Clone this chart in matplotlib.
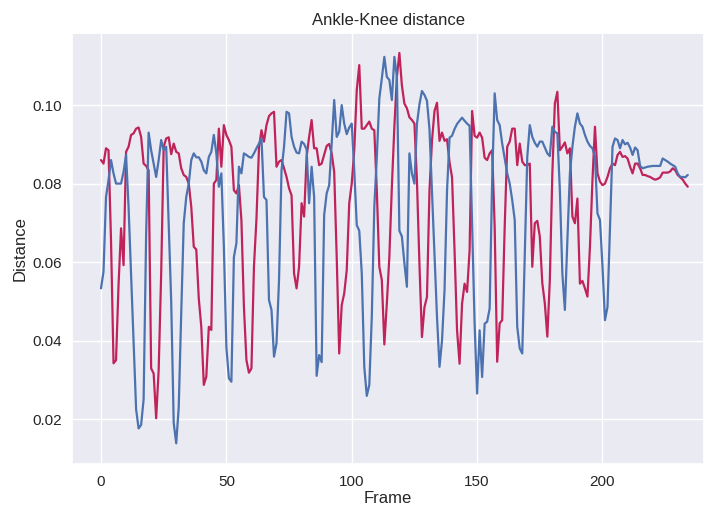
import matplotlib
matplotlib.use("Agg")
import matplotlib.pyplot as plt
import seaborn as sns
import numpy as np

blue_vals = [
    0.0533, 0.0575, 0.0766, 0.0809, 0.086, 0.0826, 0.080, 0.080, 0.080, 0.083,
    0.0873, 0.074, 0.057, 0.0394, 0.0225, 0.0176, 0.0185, 0.025, 0.067, 0.093,
    0.0885, 0.0851, 0.0817, 0.086, 0.0911, 0.0885, 0.0894, 0.0697, 0.05, 0.019,
    0.0138, 0.023, 0.047, 0.0699, 0.0766, 0.080, 0.086, 0.0877, 0.0867, 0.0867,
    0.0856, 0.0834, 0.0826, 0.0868, 0.0881, 0.0924, 0.0877, 0.0792, 0.0826, 0.064,
    0.0384, 0.0304, 0.0295, 0.0613, 0.0648, 0.0843, 0.0826, 0.0877, 0.0873, 0.0868,
    0.0866, 0.0877, 0.089, 0.0902, 0.0915, 0.0766, 0.0758, 0.0503, 0.0478, 0.0359,
    0.0393, 0.0554, 0.0834, 0.0894, 0.0983, 0.0979, 0.0919, 0.0894, 0.0879, 0.0877,
    0.0907, 0.0901, 0.0887, 0.075, 0.0843, 0.0766, 0.031, 0.0363, 0.0345, 0.072,
    0.0775, 0.0796, 0.0902, 0.1013, 0.0919, 0.0932, 0.1, 0.0953, 0.0926, 0.0943,
    0.0953, 0.0834, 0.0694, 0.068, 0.0571, 0.0333, 0.0259, 0.0287, 0.0461, 0.0741,
    0.0868, 0.1017, 0.1068, 0.1123, 0.1072, 0.1064, 0.1013, 0.1123, 0.1072, 0.068,
    0.0665, 0.0597, 0.0537, 0.0877, 0.0826, 0.080, 0.0952, 0.1002, 0.1036, 0.1026,
    0.1011, 0.0939, 0.0778, 0.0617, 0.046, 0.0333, 0.040, 0.0528, 0.0782, 0.0917,
    0.0922, 0.0939, 0.0952, 0.096, 0.0968, 0.096, 0.0953, 0.0947, 0.0697, 0.0443,
    0.0265, 0.0426, 0.0307, 0.0443, 0.0448, 0.0482, 0.0809, 0.103, 0.0962, 0.0949,
    0.0902, 0.0864, 0.0826, 0.080, 0.0758, 0.0707, 0.0435, 0.038, 0.0367, 0.0613,
    0.0868, 0.0949, 0.0919, 0.0904, 0.0894, 0.0907, 0.0907, 0.0892, 0.0877, 0.087,
    0.0945, 0.0932, 0.0928, 0.0783, 0.057, 0.0478, 0.0656, 0.0826, 0.0894, 0.0945,
    0.0979, 0.0953, 0.0945, 0.0924, 0.0907, 0.0896, 0.089, 0.0868, 0.0724, 0.0707,
    0.0588, 0.0452, 0.0486, 0.069, 0.0894, 0.0915, 0.0911, 0.089, 0.0911, 0.09,
    0.0904, 0.0892, 0.0873, 0.0892, 0.0885, 0.0845, 0.0839, 0.0841, 0.0843, 0.0844,
    0.0845, 0.0845, 0.0845, 0.0845, 0.0864, 0.086, 0.0856, 0.0851, 0.0847, 0.0843,
    0.0826, 0.0817, 0.0817, 0.0816, 0.0822,
]

red_vals = [
    0.086, 0.0851, 0.089, 0.0885, 0.0655, 0.0342, 0.035, 0.0542, 0.0686, 0.0592,
    0.0881, 0.0894, 0.0924, 0.0928, 0.094, 0.0943, 0.0919, 0.0851, 0.0845, 0.0834,
    0.0329, 0.0316, 0.0202, 0.0325, 0.057, 0.0894, 0.0915, 0.0918, 0.0875, 0.0902,
    0.0881, 0.0877, 0.0839, 0.0822, 0.0817, 0.080, 0.0741, 0.0639, 0.0632, 0.0507,
    0.0435, 0.0287, 0.0308, 0.0435, 0.0427, 0.080, 0.0809, 0.094, 0.0843, 0.0949,
    0.0924, 0.0911, 0.0894, 0.0783, 0.0775, 0.0796, 0.0707, 0.0486, 0.035, 0.0318,
    0.0329, 0.0588, 0.071, 0.089, 0.0936, 0.0907, 0.0949, 0.0972, 0.0979, 0.0983,
    0.0843, 0.0856, 0.086, 0.0839, 0.0817, 0.0788, 0.077, 0.0571, 0.0533, 0.0588,
    0.075, 0.0716, 0.0868, 0.0919, 0.0962, 0.089, 0.089, 0.0847, 0.0851, 0.0873,
    0.0896, 0.0901, 0.0877, 0.083, 0.0614, 0.0367, 0.049, 0.052, 0.0579, 0.075,
    0.080, 0.0885, 0.1038, 0.1102, 0.094, 0.094, 0.0949, 0.0958, 0.094, 0.0936,
    0.0783, 0.0588, 0.0554, 0.039, 0.0495, 0.0614, 0.0792, 0.0945, 0.1072, 0.1133,
    0.105, 0.1004, 0.0992, 0.0969, 0.0962, 0.0953, 0.0808, 0.0595, 0.0409, 0.0485,
    0.0511, 0.0782, 0.0909, 0.0985, 0.1006, 0.0909, 0.093, 0.0909, 0.0913, 0.0854,
    0.0816, 0.063, 0.0426, 0.0341, 0.0494, 0.0545, 0.0524, 0.063, 0.0985, 0.0922,
    0.0917, 0.093, 0.0917, 0.0866, 0.086, 0.0877, 0.0885, 0.069, 0.0346, 0.0444,
    0.0452, 0.069, 0.0894, 0.0907, 0.094, 0.094, 0.0847, 0.0902, 0.0856, 0.0847,
    0.0847, 0.0851, 0.0588, 0.0699, 0.0705, 0.0665, 0.0546, 0.0495, 0.041, 0.0554,
    0.0826, 0.1004, 0.1034, 0.0885, 0.0894, 0.0905, 0.0877, 0.089, 0.0716, 0.0699,
    0.0762, 0.0545, 0.0552, 0.0533, 0.0512, 0.0639, 0.0809, 0.0945, 0.0826, 0.0805,
    0.0796, 0.080, 0.0817, 0.0839, 0.0851, 0.0847, 0.0873, 0.0881, 0.0868, 0.087,
    0.0864, 0.0843, 0.0826, 0.0851, 0.0851, 0.0839, 0.0822, 0.0822, 0.0819, 0.0817,
    0.0813, 0.081, 0.0812, 0.0816, 0.0828, 0.0828, 0.0828, 0.0831, 0.0839, 0.0834,
    0.0822, 0.0816, 0.081, 0.080, 0.0792,
]

frames = np.arange(len(blue_vals))

title = "Ankle-Knee distance"
xlabel = "Frame"
ylabel = "Distance"

sns.set_theme(style="darkgrid", context="notebook")
plt.rcParams['font.family'] = ['sans-serif']
plt.rcParams['font.sans-serif'] = ['Liberation Sans', 'DejaVu Sans']
plt.rcParams['xtick.major.pad'] = 1.5
plt.rcParams['ytick.major.pad'] = 1.5

fig = plt.figure(figsize=(7.05, 5.11), dpi=100)
ax = fig.add_axes([0.1021, 0.0914, 0.8969, 0.8434])
ax.plot(frames, red_vals, color="#c0235a", lw=1.6)
ax.plot(frames, blue_vals, color="#4c72b0", lw=1.6)
ax.set_xlim(-11.57, 240.6)
ax.set_ylim(0.00846, 0.1183)
ax.set_title(title)
ax.set_xlabel(xlabel, labelpad=2)
ax.set_ylabel(ylabel, labelpad=3)
fig.savefig("out.png", dpi=100)
